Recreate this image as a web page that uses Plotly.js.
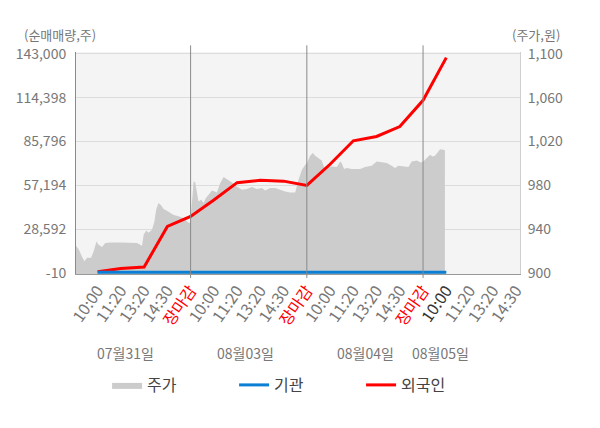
<!DOCTYPE html>
<html>
<head>
<meta charset="utf-8">
<script src="https://cdn.plot.ly/plotly-3.0.1.min.js"></script>
<style>
  html, body { margin: 0; padding: 0; background: #fff; }
  #chart { width: 600px; height: 428px; }
</style>
</head>
<body>
<div id="chart"></div>
<script>
// x-axis slots: each trading day has 5 slots (10:00, 11:20, 13:20, 14:30, 장마감)
const tickLabels = [
  '10:00', '11:20', '13:20', '14:30', '장마감',
  '10:00', '11:20', '13:20', '14:30', '장마감',
  '10:00', '11:20', '13:20', '14:30', '장마감',
  '10:00', '11:20', '13:20', '14:30'
]
const dateLabels = ['07월31일', '08월03일', '08월04일', '08월05일']

// 주가 (right axis, 원), slot position -> price
const priceX = [
  0.07, 0.18, 0.33, 0.43, 0.55, 0.72, 0.83, 0.95, 1.04, 1.19, 1.33, 1.55, 1.98, 2.41, 2.69, 2.91,
  2.98, 3.09, 3.19, 3.34, 3.44, 3.52, 3.62, 3.73, 3.84, 4.05, 4.27, 4.48, 4.70, 4.91, 4.98,
  5.04, 5.13, 5.20, 5.27, 5.34, 5.46, 5.56, 5.66, 5.77, 5.92, 6.13, 6.27, 6.42, 6.56, 6.78,
  6.99, 7.21, 7.42, 7.64, 7.85, 8.07, 8.21, 8.42, 8.64, 8.85, 9.07, 9.28, 9.50, 9.64, 9.79, 9.93,
  10.01, 10.14, 10.26, 10.36, 10.50, 10.64, 10.74, 10.86, 11.07, 11.29, 11.43, 11.50, 11.60,
  11.72, 11.93, 12.29, 12.51, 12.79, 13.01, 13.22, 13.44, 13.65, 13.79, 13.94, 14.15, 14.37,
  14.51, 14.73, 14.90, 15.01, 15.16, 15.30, 15.41, 15.51, 15.61, 15.73, 15.87, 15.94
]
const price = [
  925, 922, 915, 911, 914, 914, 920, 929, 926, 924, 927.5, 928, 928, 928, 927.5, 925,
  935, 939, 937, 939.6, 947, 958, 964, 962, 958.5, 956, 953, 952, 950, 946, 946,
  960, 983.6, 982.7, 973, 965.4, 967, 964, 968.5, 971.5, 975.4, 973.6, 982, 987.6, 985.8, 982.7,
  979, 976, 976.7, 978.5, 976.7, 977.6, 975.4, 977.6, 977.6, 976, 974.5, 973.6, 973.6, 985, 994.3, 998.8,
  1000.4, 1007, 1009.5, 1007, 1005, 1002.8, 996.7, 997.3, 997.3, 996.7, 1001.8, 1000.4, 995,
  995.8, 995, 995, 996.7, 998, 1001.8, 1001.2, 1000.4, 998, 995.8, 998, 997.3, 996.7,
  1001.8, 1002.8, 1000.9, 1001.8, 1005, 1008, 1006.4, 1007, 1009.5, 1013, 1012.5, 1012
]

// 순매매량 (left axis, 주) at each slot
const flowX = [1, 2, 3, 4, 5, 6, 7, 8, 9, 10, 11, 12, 13, 14, 15, 16]
const foreign = [900, 3100, 4000, 30500, 37000, 47700, 59000, 60500, 60000, 57200,
  71000, 86300, 89100, 95600, 112700, 140500]
const institution = [600, 600, 600, 600, 600, 600, 600, 600, 600, 600,
  600, 600, 600, 600, 600, 600]

const volTicks = [-10, 28592, 57194, 85796, 114398, 143000]
const priceTicks = [900, 940, 980, 1020, 1060, 1100]

const tickText = tickLabels.map((t, i) => {
  if (t === '장마감') return '<span style="color:#ff0000">장마감</span>'
  if (i === 15) return '<span style="color:#333333">' + t + '</span>'
  return t
})

const traces = [
  {
    x: priceX, y: price, name: '주가', yaxis: 'y',
    type: 'scatter', mode: 'lines', fill: 'tozeroy',
    fillcolor: '#cccccc', line: { color: '#cccccc', width: 0 },
    hoverinfo: 'skip', legendrank: 1
  },
  {
    x: flowX, y: foreign, name: '외국인', yaxis: 'y2',
    type: 'scatter', mode: 'lines',
    line: { color: '#ff0000', width: 3 }, legendrank: 3
  },
  {
    x: flowX, y: institution, name: '기관', yaxis: 'y2',
    type: 'scatter', mode: 'lines',
    line: { color: '#0b7fd4', width: 3 }, legendrank: 2
  }
]

const dayLines = [5, 10, 15].map(v => ({
  type: 'line', xref: 'x', yref: 'paper', x0: v, x1: v, y0: -0.018, y1: 1.03,
  line: { color: '#8a8a8a', width: 1 }
}))

const dateAnchor = [2.19, 7.35, 12.53, 15.74]
const dateNotes = dateLabels.map((t, i) => ({
  text: t, x: dateAnchor[i], xref: 'x', y: -0.356, yref: 'paper', yanchor: 'middle',
  showarrow: false, font: { size: 14, color: '#777' }
}))

const layout = {
  width: 600, height: 428,
  margin: { l: 76, r: 80, t: 52, b: 154 },
  paper_bgcolor: '#ffffff',
  plot_bgcolor: '#f4f4f4',
  font: { family: '"Noto Sans CJK KR", "Noto Sans", sans-serif', color: '#666' },
  showlegend: true,
  legend: {
    orientation: 'h', x: 0.07, xanchor: 'left', y: -0.5, yanchor: 'middle',
    font: { size: 16, color: '#444' }, entrywidth: 82, traceorder: 'normal'
  },
  xaxis: {
    range: [0.07, 19.17],
    tickvals: tickLabels.map((t, i) => i + 1),
    ticktext: tickText,
    tickangle: -55,
    tickfont: { size: 16, color: '#777' },
    showgrid: false, zeroline: false,
    showline: true, linecolor: '#999', linewidth: 1,
    ticks: ''
  },
  yaxis: {
    side: 'right',
    range: [899.3, 1101.6],
    tickvals: priceTicks,
    ticktext: priceTicks.map(v => v.toLocaleString('en-US')),
    tickfont: { size: 14, color: '#777' },
    showgrid: true, gridcolor: '#dcdcdc', zeroline: false,
    showline: true, linecolor: '#cfcfcf',
    ticks: '', ticklabelstandoff: 4
  },
  yaxis2: {
    overlaying: 'y', side: 'left',
    range: [-530, 144170],
    tickvals: volTicks,
    ticktext: volTicks.map(v => v.toLocaleString('en-US')),
    tickfont: { size: 14, color: '#777' },
    showgrid: false, zeroline: false,
    showline: true, linecolor: '#8a8a8a',
    ticks: '', ticklabelstandoff: 6
  },
  shapes: dayLines,
  annotations: dateNotes.concat([
    { text: '(순매매량,주)', xref: 'paper', yref: 'paper', x: -0.035, y: 1.077,
      xanchor: 'center', yanchor: 'middle', showarrow: false, font: { size: 13, color: '#777' } },
    { text: '(주가,원)', xref: 'paper', yref: 'paper', x: 1.035, y: 1.077,
      xanchor: 'center', yanchor: 'middle', showarrow: false, font: { size: 13, color: '#777' } }
  ])
}

Plotly.newPlot('chart', traces, layout, { displayModeBar: false, staticPlot: true })
</script>
</body>
</html>
